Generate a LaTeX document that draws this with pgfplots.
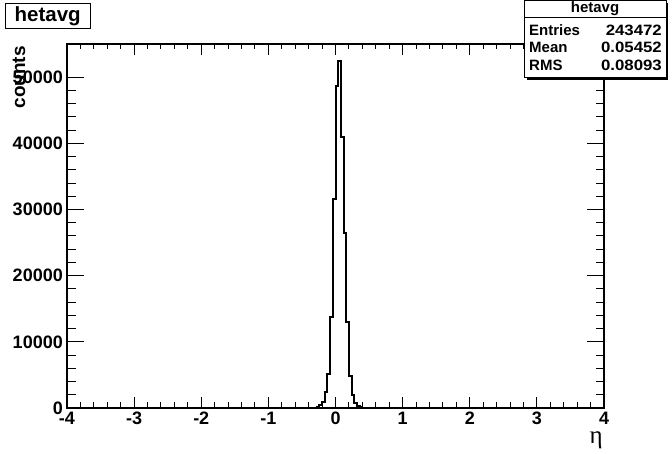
\documentclass[border=0pt]{standalone}
\usepackage{fontspec}
\setmainfont{Liberation Sans}
\newfontfamily\seriffont{Liberation Serif}
\usepackage{pgfplots}
\pgfplotsset{compat=1.18}
\begin{document}
\begin{tikzpicture}[x=1bp,y=1bp]
\useasboundingbox (0,0) rectangle (672,454);
\begin{axis}[
  at={(67bp,46bp)}, anchor=south west,
  width=537bp, height=364bp, scale only axis,
  xmin=-4, xmax=4, ymin=0, ymax=55020,
  xtick={-4,-3,...,4}, ytick={0,10000,20000,30000,40000,50000},
  minor x tick num=4, minor y tick num=4,
  tick align=inside, xtick pos=both, ytick pos=both,
  xticklabel pos=left, yticklabel pos=left,
  axis line style={line width=2bp},
  xtick style={line width=1bp, black, /pgfplots/major tick length=11bp, /pgfplots/minor tick length=5.5bp},
  ytick style={line width=1bp, black, /pgfplots/major tick length=17bp, /pgfplots/minor tick length=8.5bp},
  scaled y ticks=false,
  /pgf/number format/assume math mode=true,
  /pgf/number format/1000 sep={},
  tick label style={font=\fontsize{18bp}{18bp}\selectfont\bfseries, inner sep=0pt},
  yticklabel style={xshift=-4bp},
  xticklabel style={yshift=-4bp},
]
\addplot[const plot, line width=2bp, black] coordinates {
(-4,0) (-0.28,0) (-0.28,150) (-0.24,450) (-0.20,900) (-0.16,2470) (-0.12,5100)
(-0.08,13800) (-0.04,31600) (0.00,48600) (0.04,52400) (0.08,40900) (0.12,26500)
(0.16,13000) (0.20,4900) (0.24,1970) (0.28,700) (0.32,300) (0.36,100) (0.40,0) (4,0)
};
\end{axis}
% axis titles
\node[rotate=90, anchor=east, inner sep=0pt, font=\fontsize{19bp}{19bp}\selectfont\bfseries] at (19,408) {counts};
\node[anchor=base east, inner sep=0pt, font=\fontsize{25bp}{25bp}\selectfont\seriffont] at (603,10) {η};
% title box
\draw[line width=1bp, fill=white] (5,425.7) rectangle (90.5,450.7);
\node[font=\fontsize{20.5bp}{20.5bp}\selectfont\bfseries, inner sep=0pt] at (47.7,438.2) {hetavg};
% stats box
\fill[black] (527,374) rectangle (668,377);
\fill[black] (666,374) rectangle (668,451);
\draw[line width=1bp, fill=white] (524,376) rectangle (666,453.5);
\draw[line width=1bp] (524,436) -- (666,436);
\node[font=\fontsize{15bp}{15bp}\selectfont\bfseries, inner sep=0pt] at (595,445) {hetavg};
\node[font=\fontsize{15bp}{15bp}\selectfont\bfseries, inner sep=0pt, anchor=west] at (529,424) {Entries};
\node[font=\fontsize{15bp}{15bp}\selectfont\bfseries, inner sep=0pt, anchor=east] at (662,424) {\scalebox{1.12}[1]{243472}};
\node[font=\fontsize{15bp}{15bp}\selectfont\bfseries, inner sep=0pt, anchor=west] at (529,407) {Mean};
\node[font=\fontsize{15bp}{15bp}\selectfont\bfseries, inner sep=0pt, anchor=east] at (662,407) {\scalebox{1.12}[1]{0.05452}};
\node[font=\fontsize{15bp}{15bp}\selectfont\bfseries, inner sep=0pt, anchor=west] at (529,389) {RMS};
\node[font=\fontsize{15bp}{15bp}\selectfont\bfseries, inner sep=0pt, anchor=east] at (662,389) {\scalebox{1.12}[1]{0.08093}};
\end{tikzpicture}
\end{document}
